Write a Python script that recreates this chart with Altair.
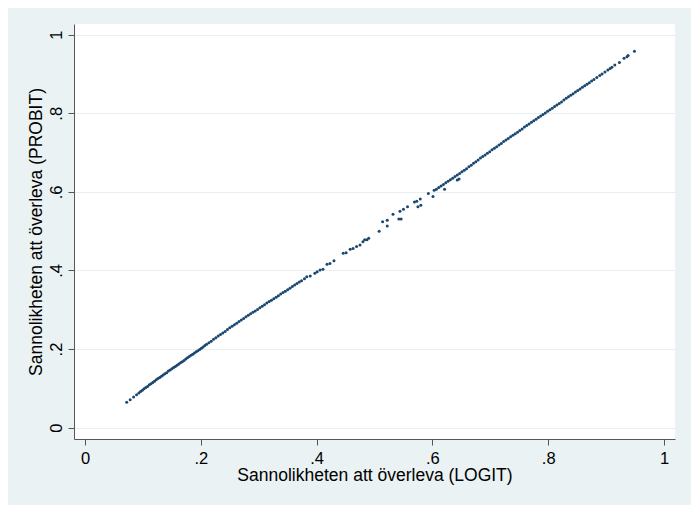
import altair as alt
import pandas as pd

# (logit probability, probit probability) pairs
seg_lower = [
    (0.072, 0.065), (0.078, 0.071), (0.084, 0.078), (0.089, 0.084), (0.093, 0.088),
    (0.096, 0.092), (0.099, 0.095), (0.102, 0.099), (0.105, 0.102), (0.108, 0.105),
    (0.111, 0.109), (0.114, 0.112), (0.117, 0.115), (0.120, 0.118), (0.123, 0.122),
    (0.126, 0.125), (0.129, 0.128), (0.132, 0.131), (0.135, 0.134), (0.138, 0.137),
    (0.141, 0.140), (0.144, 0.144), (0.147, 0.147), (0.150, 0.150), (0.153, 0.153),
    (0.156, 0.156), (0.159, 0.159), (0.162, 0.162), (0.165, 0.165), (0.168, 0.168),
    (0.171, 0.171), (0.174, 0.175), (0.177, 0.178), (0.180, 0.181), (0.183, 0.184),
    (0.186, 0.187), (0.189, 0.190), (0.192, 0.193), (0.195, 0.196), (0.198, 0.199),
    (0.201, 0.202), (0.204, 0.205), (0.207, 0.209), (0.210, 0.212),
]
seg_middle = [
    (0.214, 0.216), (0.218, 0.220), (0.222, 0.225), (0.226, 0.229), (0.230, 0.233),
    (0.234, 0.237), (0.238, 0.241), (0.242, 0.245), (0.246, 0.250), (0.250, 0.254),
    (0.254, 0.258), (0.258, 0.262), (0.262, 0.266), (0.266, 0.270), (0.270, 0.274),
    (0.274, 0.278), (0.278, 0.282), (0.282, 0.286), (0.286, 0.290), (0.290, 0.294),
    (0.294, 0.297), (0.298, 0.301), (0.302, 0.305), (0.306, 0.309), (0.310, 0.313),
    (0.314, 0.317), (0.318, 0.321), (0.322, 0.324), (0.326, 0.328), (0.330, 0.332),
    (0.334, 0.336), (0.338, 0.340), (0.342, 0.344), (0.346, 0.347), (0.350, 0.351),
    (0.354, 0.355), (0.358, 0.359), (0.362, 0.363), (0.366, 0.367), (0.370, 0.371),
    (0.374, 0.374),
]
seg_sparse = [
    (0.379, 0.379), (0.383, 0.384), (0.389, 0.386), (0.397, 0.393), (0.401, 0.397),
    (0.406, 0.401), (0.411, 0.403), (0.418, 0.416), (0.423, 0.418), (0.430, 0.425),
    (0.446, 0.444), (0.451, 0.445), (0.458, 0.454), (0.463, 0.456), (0.469, 0.461),
    (0.475, 0.465), (0.480, 0.473), (0.483, 0.478), (0.487, 0.478), (0.490, 0.482),
    (0.508, 0.500), (0.514, 0.524), (0.522, 0.528), (0.522, 0.513), (0.532, 0.543),
    (0.542, 0.531), (0.546, 0.531), (0.544, 0.551), (0.550, 0.556), (0.557, 0.562),
    (0.569, 0.574), (0.573, 0.576), (0.579, 0.582), (0.575, 0.562), (0.580, 0.566),
    (0.593, 0.596), (0.601, 0.588), (0.621, 0.607), (0.643, 0.630), (0.646, 0.633),
]
seg_upper = [
    (0.603, 0.604), (0.607, 0.607), (0.611, 0.611), (0.615, 0.615), (0.619, 0.619),
    (0.623, 0.623), (0.627, 0.627), (0.631, 0.631), (0.635, 0.635), (0.639, 0.639),
    (0.643, 0.643), (0.647, 0.647), (0.651, 0.651), (0.655, 0.655), (0.659, 0.659),
    (0.663, 0.664), (0.667, 0.668), (0.671, 0.673), (0.675, 0.677), (0.679, 0.681),
    (0.683, 0.686), (0.687, 0.690), (0.691, 0.694), (0.695, 0.698), (0.699, 0.702),
    (0.703, 0.707), (0.707, 0.711), (0.711, 0.715), (0.715, 0.719), (0.719, 0.723),
    (0.723, 0.728), (0.727, 0.732), (0.731, 0.736), (0.735, 0.740), (0.739, 0.744),
    (0.743, 0.748), (0.747, 0.752), (0.751, 0.756), (0.755, 0.760), (0.759, 0.765),
    (0.763, 0.769), (0.767, 0.773), (0.771, 0.777), (0.775, 0.781), (0.779, 0.785),
    (0.783, 0.789), (0.787, 0.793), (0.791, 0.797), (0.795, 0.801), (0.799, 0.805),
    (0.803, 0.809), (0.807, 0.813), (0.811, 0.817), (0.815, 0.821), (0.819, 0.825),
    (0.823, 0.829), (0.827, 0.834), (0.831, 0.838), (0.835, 0.842), (0.839, 0.846),
    (0.843, 0.850), (0.847, 0.854), (0.851, 0.858), (0.855, 0.862), (0.859, 0.866),
    (0.863, 0.870), (0.867, 0.874), (0.871, 0.878), (0.875, 0.882), (0.879, 0.886),
]
seg_tail = [
    (0.884, 0.891), (0.889, 0.896), (0.893, 0.900), (0.898, 0.905), (0.903, 0.910),
    (0.907, 0.914), (0.910, 0.917), (0.915, 0.923), (0.923, 0.929), (0.931, 0.940),
    (0.936, 0.944), (0.938, 0.947), (0.949, 0.958),
]

tick_values = [0, 0.2, 0.4, 0.6, 0.8, 1]
x_title = "Sannolikheten att överleva (LOGIT)"
y_title = "Sannolikheten att överleva (PROBIT)"

rows = seg_lower + seg_middle + seg_sparse + seg_upper + seg_tail
df = pd.DataFrame(rows, columns=["logit", "probit"])

label_expr = "replace(format(datum.value, '.1~f'), '0.', '.')"
FONT = "Liberation Sans"

chart = (
    alt.Chart(df)
    .mark_circle(size=9, color="#1a476f", opacity=1)
    .encode(
        x=alt.X(
            "logit:Q",
            scale=alt.Scale(domain=[-0.019, 1.019], nice=False, zero=False),
            axis=alt.Axis(
                values=tick_values,
                labelExpr=label_expr,
                title=x_title,
                grid=False,
                tickSize=6,
                labelPadding=5,
                titlePadding=0,
            ),
        ),
        y=alt.Y(
            "probit:Q",
            scale=alt.Scale(domain=[-0.0288, 1.0272], nice=False, zero=False),
            axis=alt.Axis(
                values=tick_values,
                labelExpr=label_expr,
                title=y_title,
                grid=True,
                gridColor="#E8EFF1",
                gridWidth=1,
                tickSize=6,
                labelAngle=270,
                labelAlign="center",
                labelBaseline="bottom",
                labelPadding=4,
                titlePadding=3,
            ),
        ),
    )
    .properties(
        width=601,
        height=415,
        background="#EAF2F3",
        padding={"left": 66, "top": 16, "right": 16, "bottom": 66},
        autosize=alt.AutoSizeParams(type="none"),
    )
    .configure_view(fill="white", strokeWidth=0)
    .configure_axis(
        domainColor="#555555",
        tickColor="#555555",
        labelFont=FONT,
        titleFont=FONT,
        labelFontSize=16.5,
        titleFontSize=17.5,
        titleFontWeight="normal",
        labelColor="#000000",
        titleColor="#000000",
    )
)

chart.save("out.html", embed_options={"renderer": "svg", "actions": False})
